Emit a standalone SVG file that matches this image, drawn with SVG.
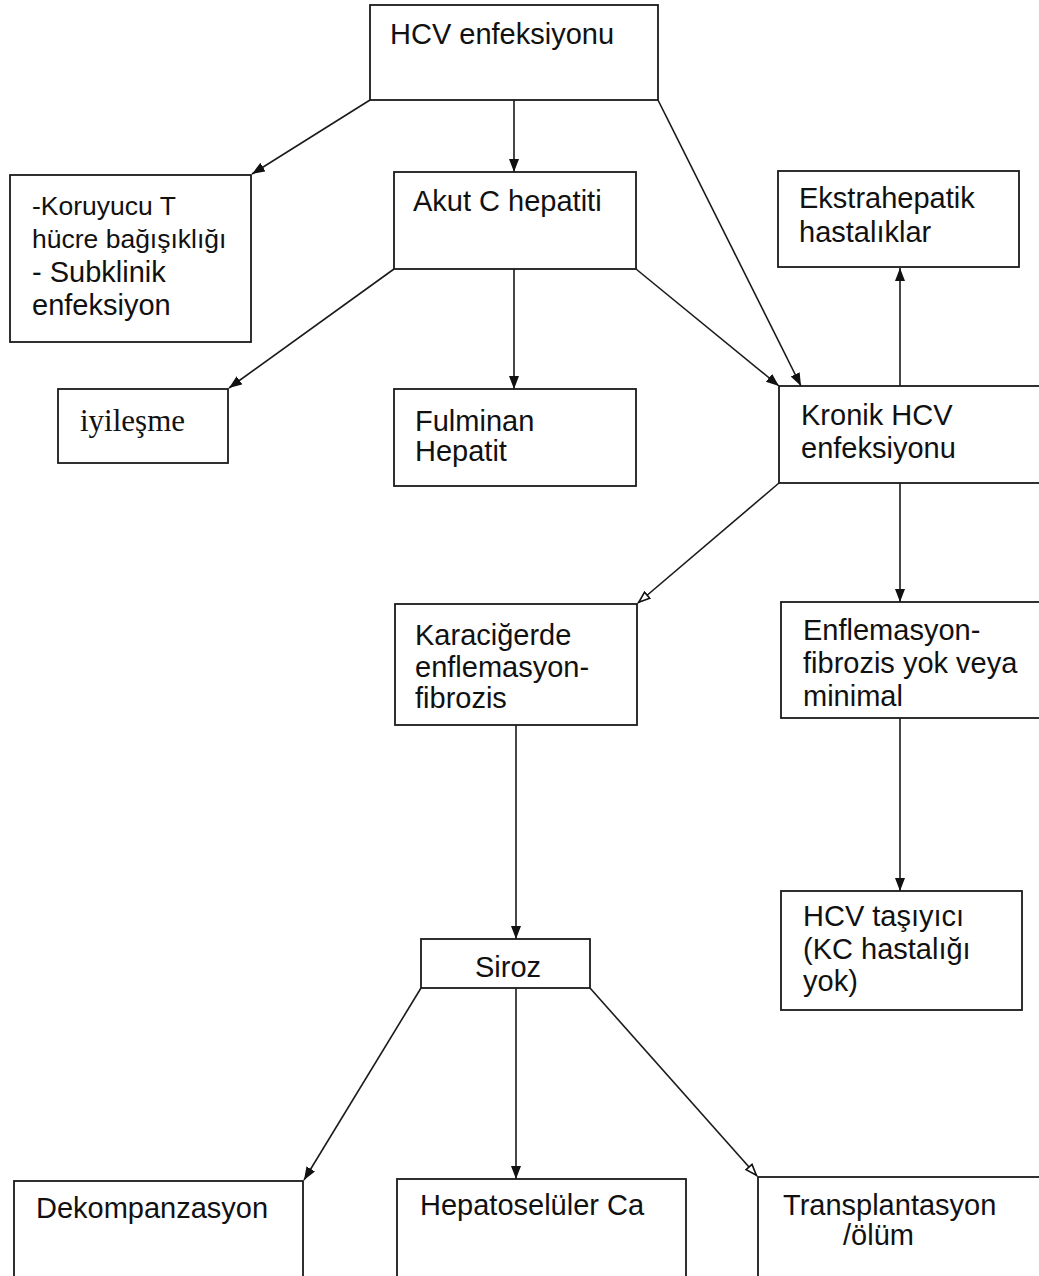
<svg xmlns="http://www.w3.org/2000/svg" width="1039" height="1276" viewBox="0 0 1039 1276">
<style>
.box{fill:#fff;stroke:#1a1a1a;stroke-width:1.8}
.t{font-family:"Liberation Sans",Arial,sans-serif;font-size:29px;fill:#111}
.ts{font-family:"Liberation Sans",Arial,sans-serif;font-size:26.5px;fill:#111}
.tr{font-family:"Liberation Serif","Times New Roman",serif;font-size:31px;fill:#111}
.c{stroke:#1a1a1a;stroke-width:1.6;fill:none}
</style>
<defs>
<marker id="a" markerUnits="userSpaceOnUse" markerWidth="14" markerHeight="12" refX="13" refY="5" orient="auto">
<path d="M0,0 L13,5 L0,10 z" fill="#111"/>
</marker>
<marker id="o" markerUnits="userSpaceOnUse" markerWidth="14" markerHeight="12" refX="13" refY="5" orient="auto">
<path d="M1,1 L12,5 L1,9 z" fill="#fff" stroke="#111" stroke-width="1.6"/>
</marker>
</defs>
<rect width="1039" height="1276" fill="#fff"/>
<g id="connectors">
<line class="c" x1="370" y1="100" x2="252" y2="174" marker-end="url(#a)"/>
<line class="c" x1="514" y1="100" x2="514" y2="172" marker-end="url(#a)"/>
<line class="c" x1="658" y1="100" x2="801" y2="386" marker-end="url(#a)"/>
<line class="c" x1="394" y1="269" x2="229" y2="388" marker-end="url(#a)"/>
<line class="c" x1="514" y1="269" x2="514" y2="389" marker-end="url(#a)"/>
<line class="c" x1="636" y1="269" x2="779" y2="386" marker-end="url(#a)"/>
<line class="c" x1="900" y1="386" x2="900" y2="268" marker-end="url(#a)"/>
<line class="c" x1="779" y1="483" x2="638" y2="603" marker-end="url(#o)"/>
<line class="c" x1="900" y1="483" x2="900" y2="602" marker-end="url(#a)"/>
<line class="c" x1="900" y1="718" x2="900" y2="891" marker-end="url(#a)"/>
<line class="c" x1="516" y1="725" x2="516" y2="939" marker-end="url(#a)"/>
<line class="c" x1="421" y1="988" x2="304" y2="1180" marker-end="url(#a)"/>
<line class="c" x1="516" y1="988" x2="516" y2="1179" marker-end="url(#a)"/>
<line class="c" x1="590" y1="988" x2="757" y2="1176" marker-end="url(#o)"/>
</g>
<g id="hcv"><rect class="box" x="370" y="5" width="288" height="95"/><text class="t" x="390" y="44">HCV enfeksiyonu</text></g>
<g id="koruyucu"><rect class="box" x="10" y="175" width="241" height="167"/>
<text class="ts" x="32" y="215">-Koruyucu T</text>
<text class="ts" x="32" y="248">hücre bağışıklığı</text>
<text class="t" x="32" y="282">- Subklinik</text>
<text class="t" x="32" y="315">enfeksiyon</text></g>
<g id="akut"><rect class="box" x="394" y="172" width="242" height="97"/><text class="t" x="413" y="211">Akut C hepatiti</text></g>
<g id="ekstra"><rect class="box" x="778" y="171" width="241" height="96"/><text class="t" x="799" y="208">Ekstrahepatik</text><text class="t" x="799" y="242">hastalıklar</text></g>
<g id="iyilesme"><rect class="box" x="58" y="389" width="170" height="74"/><text class="tr" x="80" y="431">iyileşme</text></g>
<g id="fulminan"><rect class="box" x="394" y="389" width="242" height="97"/><text class="t" x="415" y="431">Fulminan</text><text class="t" x="415" y="461">Hepatit</text></g>
<g id="kronik"><rect class="box" x="779" y="386" width="270" height="97"/><text class="t" x="801" y="425">Kronik HCV</text><text class="t" x="801" y="458">enfeksiyonu</text></g>
<g id="karaciger"><rect class="box" x="395" y="604" width="242" height="121"/><text class="t" x="415" y="645">Karaciğerde</text><text class="t" x="415" y="677">enflemasyon-</text><text class="t" x="415" y="708">fibrozis</text></g>
<g id="enflemasyon"><rect class="box" x="781" y="602" width="268" height="116"/><text class="t" x="803" y="640">Enflemasyon-</text><text class="t" x="803" y="673">fibrozis yok veya</text><text class="t" x="803" y="706">minimal</text></g>
<g id="tasiyici"><rect class="box" x="781" y="891" width="241" height="119"/><text class="t" x="803" y="926">HCV taşıyıcı</text><text class="t" x="803" y="959">(KC hastalığı</text><text class="t" x="803" y="991">yok)</text></g>
<g id="siroz"><rect class="box" x="421" y="939" width="169" height="49"/><text class="t" x="475" y="977">Siroz</text></g>
<g id="dekompanzasyon"><rect class="box" x="14" y="1181" width="289" height="110"/><text class="t" x="36" y="1218">Dekompanzasyon</text></g>
<g id="hepatoseluler"><rect class="box" x="397" y="1179" width="289" height="110"/><text class="t" x="420" y="1215">Hepatoselüler Ca</text></g>
<g id="transplantasyon"><rect class="box" x="758" y="1177" width="291" height="110"/><text class="t" x="783" y="1215">Transplantasyon</text><text class="t" x="843" y="1245">/ölüm</text></g>
</svg>
